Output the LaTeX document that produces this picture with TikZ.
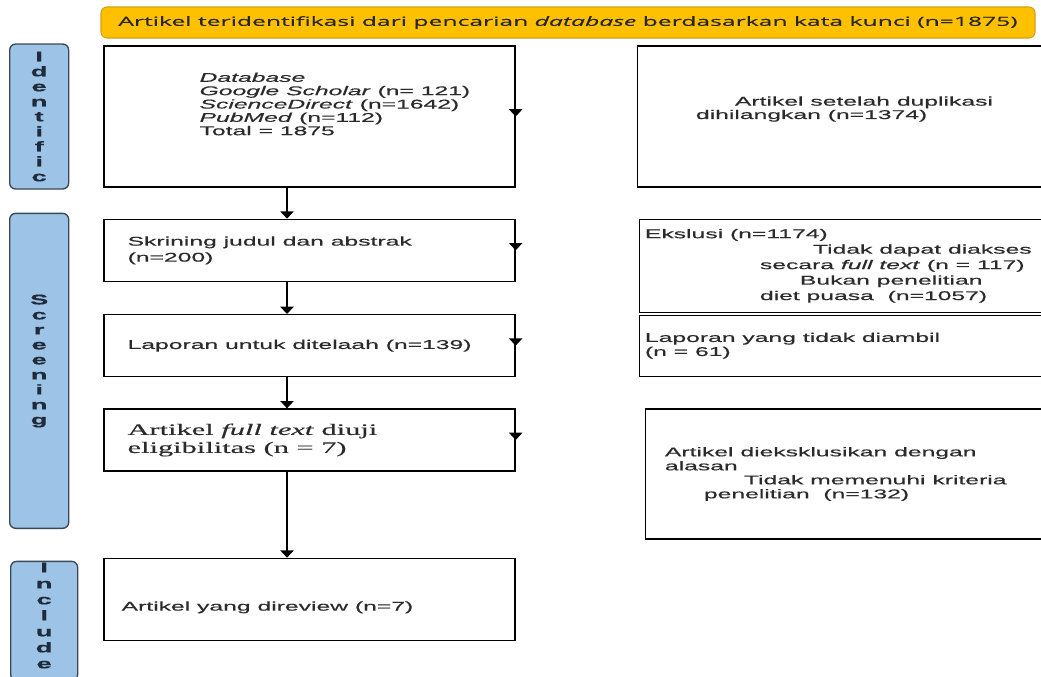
\documentclass[tikz,border=0pt]{standalone}
\usepackage{fontspec}
\usepackage{xcolor}
\usetikzlibrary{arrows.meta, positioning}
\newfontfamily\wsans[FakeStretch=1.95, FakeBold=0.5]{Liberation Sans}
\newfontfamily\wserif[FakeStretch=1.9, FakeBold=0.4]{Liberation Serif}
\newfontfamily\wbanner[FakeStretch=1.95, FakeBold=0.4]{Open Sans}
\definecolor{bannerfill}{HTML}{FFC000}
\definecolor{bannerdraw}{HTML}{D4A017}
\definecolor{sidefill}{HTML}{9DC3E6}
\definecolor{sidedraw}{HTML}{3A4756}
\definecolor{sidetext}{HTML}{1F2B3A}
\definecolor{boxtext}{HTML}{2B2B2B}

\begin{document}
\begin{tikzpicture}[
    box/.style={rectangle, draw=black, line width=1pt, minimum width=308.25pt, minimum height=46.5pt, inner sep=0pt},
    widebox/.style={box, minimum width=309pt},
    sidebox/.style={rectangle, draw=sidedraw, line width=1pt, fill=sidefill, rounded corners=4.5pt, minimum width=44.25pt, inner sep=0pt, align=center, text=sidetext, font=\wsans\bfseries\fontsize{10.5}{11.25}\selectfont},
    banner/.style={rectangle, draw=bannerdraw, line width=0.8pt, fill=bannerfill, rounded corners=4.5pt, minimum width=700.5pt, minimum height=23.25pt, inner sep=0pt, text=black!85, font=\wbanner\fontsize{9.5}{10}\selectfont},
    txt/.style={anchor=west, align=left, inner sep=0pt, text=boxtext, font=\wsans\fontsize{9.5}{11.25}\selectfont},
    arrow/.style={-{Triangle[width=10pt, length=5.5pt]}, line width=1pt, draw=black}
]
\useasboundingbox (0,0) rectangle (780.75pt,-507pt);

% Banner (top)
\node[banner] (search) at (426pt,-16.875pt) {Artikel teridentifikasi dari pencarian \textit{database} berdasarkan kata kunci (n=1875)};

% Main column (left)
\node[box, minimum height=105.75pt] (db) at (232.125pt,-87.375pt) {};
\node[box, below=23.25pt of db] (scr) {};
\node[box, below=24pt of scr] (rep) {};
\node[box, below=23.25pt of rep] (elig) {};
\node[box, minimum height=61.5pt, below=64.5pt of elig] (incl) {};

\node[txt, font=\wsans\fontsize{9.5}{10}\selectfont] (db_txt) at ([xshift=72pt, yshift=9.4pt]db.west) {\textit{Database}\\\textit{Google Scholar} (n= 121)\\\textit{ScienceDirect} (n=1642)\\\textit{PubMed} (n=112)\\Total = 1875};
\node[txt, font=\wsans\fontsize{9.5}{12}\selectfont] (scr_txt) at ([xshift=18pt]scr.west) {Skrining judul dan abstrak\\(n=200)};
\node[txt] (rep_txt) at ([xshift=18pt]rep.west) {Laporan untuk ditelaah (n=139)};
\node[txt, font=\wserif\fontsize{12}{13.5}\selectfont] (elig_txt) at ([xshift=18pt]elig.west) {Artikel \textit{full text} diuji\\eligibilitas (n = 7)};
\node[txt] (incl_txt) at ([xshift=13.5pt, yshift=-6pt]incl.west) {Artikel yang direview (n=7)};

% Exclusion column (right)
\node[widebox, minimum height=105.75pt, right=90.75pt of db] (dup) {};
\node[widebox, minimum height=69.75pt, right=92.25pt of scr.north east, anchor=north west] (excl) {};
\node[widebox, minimum height=45.75pt, right=92.25pt of rep] (drop) {};
\node[widebox, minimum height=97.5pt, right=96.75pt of elig.north east, anchor=north west] (why) {};

\node[txt, font=\wsans\fontsize{9.5}{10}\selectfont] (dup_txt) at ([xshift=44.25pt, yshift=5.6pt]dup.west) {\hspace*{29.25pt}Artikel setelah duplikasi\\dihilangkan (n=1374)};
\node[txt, font=\wsans\fontsize{9.5}{11.6}\selectfont] (excl_txt) at ([xshift=4.5pt]excl.west) {Ekslusi (n=1174)\\\hspace*{126pt}Tidak dapat diakses\\\hspace*{86.25pt}secara \textit{full text} (n = 117)\\\hspace*{116.25pt}Bukan penelitian\\\hspace*{86.25pt}diet puasa\ \ (n=1057)};
\node[txt, font=\wsans\fontsize{9.5}{10.5}\selectfont] (drop_txt) at ([xshift=4.5pt]drop.west) {Laporan yang tidak diambil\\(n = 61)};
\node[txt, font=\wsans\fontsize{9.5}{10.5}\selectfont] (why_txt) at ([xshift=15pt]why.west) {Artikel dieksklusikan dengan\\alasan\\\hspace*{59.25pt}Tidak memenuhi kriteria\\\hspace*{29.25pt}penelitian\ \ (n=132)};

% Phase labels (far left)
\node[sidebox, minimum height=108.75pt, left=25.5pt of db] (side_ident) {I\\d\\e\\n\\t\\i\\f\\i\\c};
\node[sidebox, minimum height=236.25pt, text depth=17pt, left=25.5pt of scr.north west, anchor=north east, yshift=4.5pt] (side_scr) {S\\c\\r\\e\\e\\n\\i\\n\\g};
\node[sidebox, minimum width=50.25pt, minimum height=89.25pt, text depth=8pt, font=\wsans\bfseries\fontsize{10.5}{12}\selectfont, left=18.75pt of incl.north west, anchor=north east, yshift=-2.25pt] (side_incl) {I\\n\\c\\l\\u\\d\\e};

% Flow down the main column
\draw[arrow] ([xshift=-16.875pt]db.south) -- ([xshift=-16.875pt]scr.north);
\draw[arrow] ([xshift=-16.875pt]scr.south) -- ([xshift=-16.875pt]rep.north);
\draw[arrow] ([xshift=-16.875pt]rep.south) -- ([xshift=-16.875pt]elig.north);
\draw[arrow] ([xshift=-16.875pt]elig.south) -- ([xshift=-16.875pt]incl.north);

% Tips on the right edges
\draw[arrow] (db.north east) -- (db.east);
\draw[arrow] (scr.north east) -- (scr.east);
\draw[arrow] (rep.north east) -- (rep.east);
\draw[arrow] (elig.north east) -- (elig.east);

\end{tikzpicture}
\end{document}
